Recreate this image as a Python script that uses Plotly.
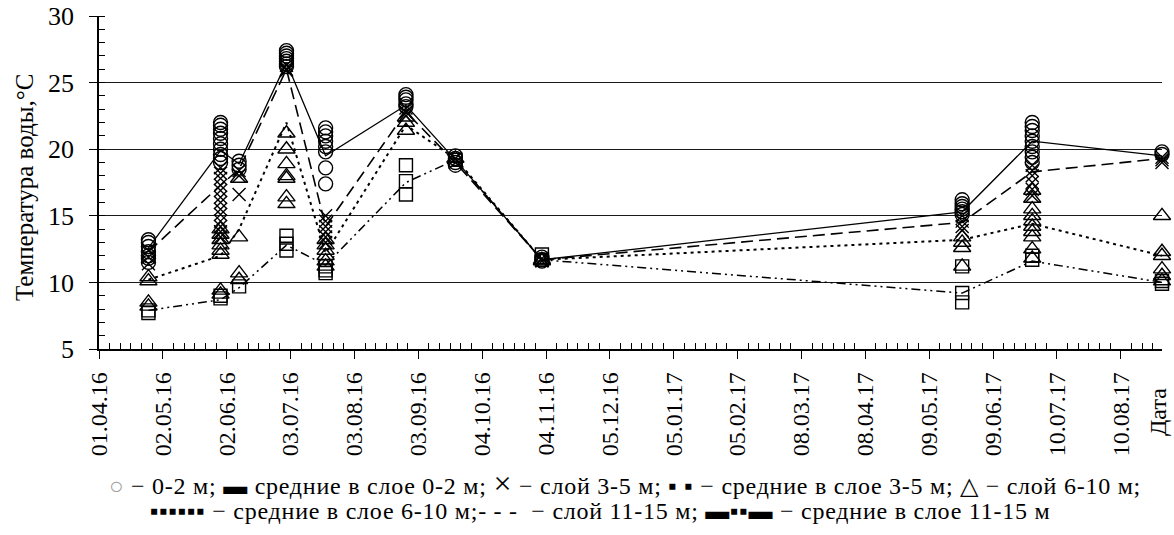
import plotly.graph_objects as go
import pandas as pd

# ---------------- data ----------------
sample_dates = ["2016-04-25", "2016-05-30", "2016-06-08", "2016-07-01", "2016-07-20",
                "2016-08-28", "2016-09-21", "2016-11-02", "2017-05-25", "2017-06-28",
                "2017-08-30"]

t_0_2 = [
    [13.2, 13.0, 12.7, 12.3, 12.0, 11.8, 11.5],
    [22.0, 21.8, 21.5, 21.2, 20.8, 20.4, 20.0, 19.6, 19.3, 19.0],
    [19.1, 18.8, 18.5],
    [27.4, 27.2, 27.0, 26.8, 26.6, 26.4, 26.2],
    [21.6, 21.3, 21.0, 20.6, 20.2, 19.8, 18.6, 17.4],
    [24.1, 23.9, 23.7, 23.4, 23.2],
    [19.5, 19.3, 19.0, 18.8],
    [11.9, 11.7, 11.6],
    [16.2, 15.9, 15.7, 15.5, 15.3, 15.1],
    [22.0, 21.7, 21.4, 21.0, 20.6, 20.2, 19.8, 19.4, 19.0],
    [19.8, 19.6],
]
t_3_5 = [
    [12.4, 11.9, 11.4],
    [18.6, 18.2, 17.8, 17.3, 16.9, 16.4, 16.0, 15.5, 15.1, 14.6, 14.2, 13.8, 13.4],
    [18.4, 18.0, 16.6],
    [26.3, 26.0, 25.9],
    [15.0, 14.6, 14.2, 13.8, 13.4, 13.0],
    [23.1, 22.8, 22.5],
    [19.3, 19.0],
    [11.8, 11.6],
    [15.0, 14.6, 14.2, 13.9],
    [18.8, 18.4, 18.0, 17.5, 17.0, 16.5],
    [19.4, 19.2, 19.0],
]
t_6_10 = [
    [10.4, 10.1, 8.5, 8.2],
    [14.0, 13.6, 13.2, 12.8, 12.4, 12.1, 9.4, 9.1],
    [17.8, 13.4, 10.7, 10.2],
    [21.2, 20.0, 18.9, 18.0, 17.8, 16.4, 15.9],
    [13.2, 12.8, 12.4, 12.0, 11.6, 11.2],
    [22.4, 22.0, 21.4],
    [19.3],
    [11.7, 11.6],
    [13.4, 13.0, 12.6, 11.2],
    [16.9, 16.3, 15.5, 15.0, 14.6, 14.2, 13.8, 13.4, 12.5, 11.8],
    [15.0, 12.3, 12.0, 11.0, 10.5, 10.1],
]
t_11_15 = [
    [7.9, 7.7],
    [9.0, 8.8],
    [9.7],
    [13.5, 12.9, 12.4],
    [11.2, 10.9, 10.7],
    [18.8, 17.6, 16.6],
    [19.2],
    [12.1, 11.7],
    [11.2, 9.2, 8.5],
    [12.0, 11.7],
    [10.1, 9.9],
]

mean_0_2 = [12.6, 19.9, 18.9, 26.5, 19.5, 23.3, 19.2, 11.7, 15.3, 20.6, 19.5]
mean_3_5 = [12.3, 17.3, 18.5, 26.0, 14.2, 22.8, 19.0, 11.7, 14.5, 18.3, 19.3]
mean_6_10 = [10.2, 12.0, 14.0, 22.0, 12.2, 21.8, 19.3, 11.7, 13.2, 14.4, 12.0]
mean_11_15 = [7.9, 8.7, 9.6, 12.8, 11.3, 17.5, 19.2, 11.7, 9.2, 11.6, 10.0]

tick_dates = ["2016-04-01", "2016-05-02", "2016-06-02", "2016-07-03", "2016-08-03",
              "2016-09-03", "2016-10-04", "2016-11-04", "2016-12-05", "2017-01-05",
              "2017-02-05", "2017-03-08", "2017-04-08", "2017-05-09", "2017-06-09",
              "2017-07-10", "2017-08-10"]
tick_labels = ["01.04.16", "02.05.16", "02.06.16", "03.07.16", "03.08.16", "03.09.16",
               "04.10.16", "04.11.16", "05.12.16", "05.01.17", "05.02.17", "08.03.17",
               "08.04.17", "09.05.17", "09.06.17", "10.07.17", "10.08.17"]

FONT = "Liberation Serif"
X_START, X_END = "2016-04-01", "2017-08-30"
W, H = 1174, 535
ML, MR, MT, MB = 99, 12, 16, 186
PW, PH = W - ML - MR, H - MT - MB


def flatten(groups):
    xs, ys = [], []
    for d, vals in zip(sample_dates, groups):
        for v in vals:
            xs.append(d)
            ys.append(v)
    return xs, ys


def px_x(p):
    return (p - ML) / PW


def px_y(p):
    return (H - MB - p) / PH


fig = go.Figure()

# mean lines
line_specs = [
    (mean_0_2, "solid", 1.3),
    (mean_3_5, "12px,6px", 1.6),
    (mean_6_10, "3px,4px", 2.0),
    (mean_11_15, "9px,4px,2px,4px,2px,4px", 1.5),
]
for vals, dash, w in line_specs:
    fig.add_trace(go.Scatter(x=sample_dates, y=vals, mode="lines",
                             line=dict(color="black", width=w, dash=dash),
                             showlegend=False, hoverinfo="skip", cliponaxis=False))

# point markers
marker_specs = [
    (t_11_15, "square-open", 13),
    (t_6_10, "triangle-up-open", 15),
    (t_3_5, "x-thin-open", 13),
    (t_0_2, "circle-open", 14),
]
for groups, sym, size in marker_specs:
    xs, ys = flatten(groups)
    fig.add_trace(go.Scatter(x=xs, y=ys, mode="markers",
                             marker=dict(symbol=sym, size=size, color="black",
                                         line=dict(color="black", width=1.4)),
                             showlegend=False, cliponaxis=False))

# minor x ticks: 5 between each pair of majors
minor_vals = []
t0 = pd.Timestamp(X_START)
for k in range(17 * 6 + 6):
    t = t0 + pd.Timedelta(hours=31 * 24 * k / 6)
    if t <= pd.Timestamp(X_END) and k % 6 != 0:
        minor_vals.append(t)

fig.update_layout(
    width=W, height=H,
    margin=dict(l=ML, r=MR, t=MT, b=MB, autoexpand=False),
    paper_bgcolor="white", plot_bgcolor="white",
    font=dict(family=FONT, size=23, color="black"),
    xaxis=dict(
        type="date", range=[X_START, X_END], automargin=False,
        tickmode="array", tickvals=tick_dates, ticktext=tick_labels,
        tickangle=-90, ticks="outside", ticklen=8, tickwidth=1.3, tickcolor="black",
        ticklabelstandoff=4,
        showline=True, linecolor="black", linewidth=1.5, showgrid=False, zeroline=False,
        tickfont=dict(family=FONT, size=24, color="black"),
        minor=dict(tickmode="array", tickvals=minor_vals, ticks="inside", ticklen=6,
                   tickwidth=1.2, tickcolor="black", showgrid=False),
    ),
    yaxis=dict(
        range=[5, 30], tickmode="linear", tick0=5, dtick=5, automargin=False,
        ticks="outside", ticklen=8, tickwidth=1.3, tickcolor="black",
        ticklabelstandoff=10,
        showline=True, linecolor="black", linewidth=1.5,
        showgrid=True, gridcolor="#1a1a1a", gridwidth=1.4, zeroline=False,
        tickfont=dict(family=FONT, size=26, color="black"),
        minor=dict(dtick=1, ticks="inside", ticklen=6, tickwidth=1.2,
                   tickcolor="black", showgrid=False),
    ),
)

# y axis title
fig.add_annotation(text="Температура воды,°С", xref="paper", yref="paper",
                   x=px_x(24), y=px_y(188), textangle=-90, showarrow=False,
                   xanchor="center", yanchor="middle",
                   font=dict(family=FONT, size=25, color="black"))
# x axis title at right end
fig.add_annotation(text="Дата", xref="paper", yref="paper",
                   x=px_x(1158), y=px_y(386), textangle=-90, showarrow=False,
                   xanchor="center", yanchor="top",
                   font=dict(family=FONT, size=24, color="black"))

# legend text lines
LS = "<span style='letter-spacing:0.75px'>"
leg1 = (LS + "<span style='color:#a0a0a0'>○</span> − 0-2 м; ▬ средние в слое 0-2 м; "
        "<span style='font-size:32px'>×</span> − слой 3-5 м; ▪ ▪ − средние в слое 3-5 м; "
        "△ − слой 6-10 м;</span>")
leg2 = (LS + "▪▪▪▪▪▪ − средние в слое 6-10 м;- - -  − слой 11-15 м; "
        "▬▪▪▬ − средние в слое 11-15 м</span>")
fig.add_annotation(text=leg1, xref="paper", yref="paper", x=px_x(625),
                   y=px_y(483), showarrow=False, xanchor="center",
                   yanchor="middle", font=dict(family=FONT, size=24, color="black"))
fig.add_annotation(text=leg2, xref="paper", yref="paper", x=px_x(600),
                   y=px_y(511), showarrow=False, xanchor="center",
                   yanchor="middle", font=dict(family=FONT, size=24, color="black"))

fig.write_html("out.html", config={"displayModeBar": False},
               post_script="document.body.style.margin='0';")
